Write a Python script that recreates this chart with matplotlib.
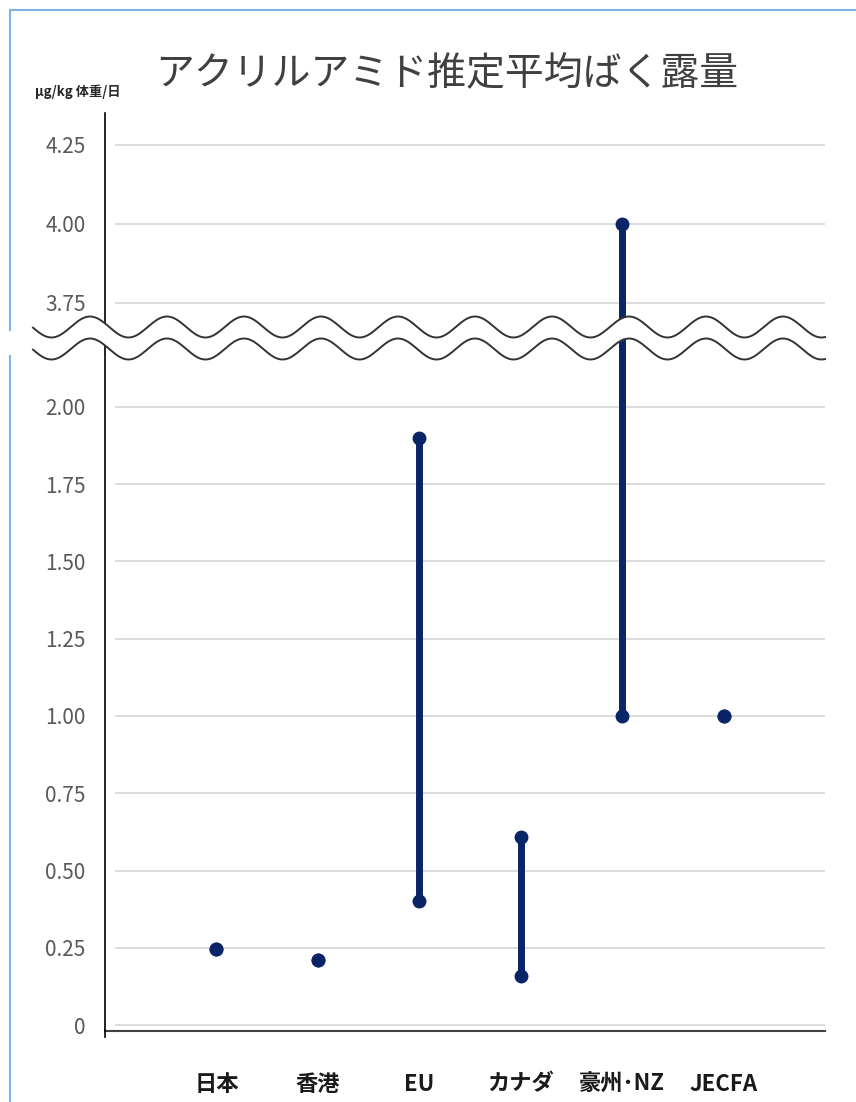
import matplotlib
matplotlib.use('Agg')
import matplotlib.pyplot as plt
import numpy as np

plt.rcParams['font.family'] = ['Noto Sans CJK JP', 'DejaVu Sans']

# data
categories = ['日本', '香港', 'EU', 'カナダ', '豪州･NZ', 'JECFA']
low = [0.245, 0.21, 0.40, 0.16, 1.00, 1.00]
high = [0.245, 0.21, 1.90, 0.61, 4.00, 1.00]
lower_ticks = [0, 0.25, 0.5, 0.75, 1.0, 1.25, 1.5, 1.75, 2.0]
lower_labels = ['0', '0.25', '0.50', '0.75', '1.00', '1.25', '1.50', '1.75', '2.00']
upper_ticks = [3.75, 4.0, 4.25]
upper_labels = ['3.75', '4.00', '4.25']

W, H = 856, 1102
navy = '#0a2468'
grid_c = '#d9d9d9'
tick_c = '#595959'

fig = plt.figure(figsize=(W / 100, H / 100), dpi=100)
fig.patch.set_facecolor('white')

def box(x0, y0, x1, y1):
    # pixel box (top-left origin) -> figure fraction
    return [x0 / W, 1 - y1 / H, (x1 - x0) / W, (y1 - y0) / H]

ax_top = fig.add_axes(box(115, 113, 825, 336))
ax_bot = fig.add_axes(box(115, 336, 825, 1031))

x = np.arange(1, len(categories) + 1)

for ax in (ax_top, ax_bot):
    ax.set_xlim(0, 7)
    for xi, lo, hi in zip(x, low, high):
        if hi > lo:
            ax.plot([xi, xi], [lo, hi], color=navy, lw=5, solid_capstyle='butt', zorder=3)
    ax.plot(x, low, 'o', color=navy, ms=9, zorder=4)
    ax.plot(x, high, 'o', color=navy, ms=9, zorder=4)
    ax.yaxis.grid(True, color=grid_c, lw=1.3)
    ax.set_axisbelow(True)
    for s in ('top', 'right'):
        ax.spines[s].set_visible(False)
    ax.spines['left'].set_position(('outward', 7.2))
    ax.spines['left'].set_color('black')
    ax.spines['left'].set_linewidth(1.2)
    ax.tick_params(axis='y', length=0, pad=14, labelsize=15, labelcolor=tick_c)
    ax.set_facecolor('none')

ax_top.set_ylim(3.645, 4.35)
ax_top.set_yticks(upper_ticks)
ax_top.set_yticklabels(upper_labels)
ax_top.spines['bottom'].set_visible(False)
ax_top.set_xticks([])

ax_bot.set_ylim(-0.019, 2.229)
ax_bot.set_yticks(lower_ticks)
ax_bot.set_yticklabels(lower_labels)
ax_bot.spines['bottom'].set_color('#404040')
ax_bot.spines['bottom'].set_linewidth(1.5)
ax_bot.set_xticks(x)
ax_bot.set_xticklabels(categories, fontsize=16, fontweight='bold', color='#1a1a1a')
ax_bot.tick_params(axis='x', length=0, pad=30)

# overlay in pixel coordinates for frame, break marks and titles
ov = fig.add_axes([0, 0, 1, 1], zorder=10)
ov.set_xlim(0, W)
ov.set_ylim(H, 0)
ov.axis('off')
ov.patch.set_alpha(0)

# light blue frame
ov.plot([10, W], [10, 10], color='#7fb2e5', lw=1.5)
ov.plot([10, 10], [10, 330], color='#7fb2e5', lw=1.5)
ov.plot([10, 10], [356, H], color='#7fb2e5', lw=1.5)

# axis line stubs left of / below the plot area
ov.plot([105, 115], [1031, 1031], color='#404040', lw=1.5)
ov.plot([105, 105], [1030, 1037], color='black', lw=1.2)

# wavy break
wx = np.linspace(33, 825, 800)
wave = 10.5 * np.cos(2 * np.pi * (wx - 90) / 77)
y1 = 327 - wave
y2 = 349 - wave
ov.fill_between(wx, y1, y2, color='white', lw=0)
ov.plot(wx, y1, color='#333333', lw=1.4)
ov.plot(wx, y2, color='#333333', lw=1.4)

ov.text(155, 74, 'アクリルアミド推定平均ばく露量', fontsize=28, color='#404040',
        ha='left', va='center')
ov.text(35, 92, 'μg/kg 体重/日', fontsize=9.5, fontweight='bold', color='#262626',
        ha='left', va='center')

fig.savefig('out.png', dpi=100, facecolor='white')
